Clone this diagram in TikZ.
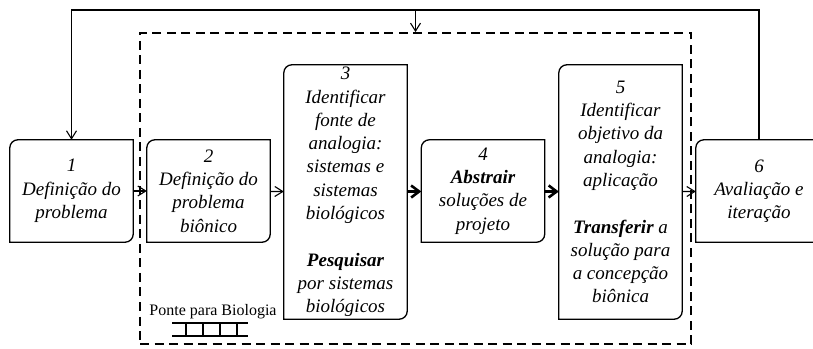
\documentclass[tikz,border=0pt]{standalone}
\usepackage{fontspec}
\setmainfont{Liberation Serif}
\usetikzlibrary{arrows.meta,positioning}

% outline with rounded top-left and bottom-right corners
\newcommand{\stepoutline}[1]{%
  \draw[boxline] (#1.north east) -- ([yshift=8pt]#1.south east)
    arc[start angle=0,end angle=-90,radius=8pt] -- (#1.south west)
    -- ([yshift=-8pt]#1.north west)
    arc[start angle=180,end angle=90,radius=8pt] -- cycle;}

\begin{document}
\begin{tikzpicture}[
    x=1pt,y=1pt,
    stepbox/.style={inner sep=0pt,minimum width=123pt,minimum height=102pt,
        align=center,font=\fontsize{19}{23.3}\selectfont\itshape},
    tallbox/.style={stepbox,minimum height=254pt},
    boxline/.style={line width=1.3pt},
    flow/.style={->,line width=1.1pt},
    boldflow/.style={-{Straight Barb[length=8pt,width=12pt]},line width=2.6pt},
    >={Straight Barb[length=8pt,width=10pt]},
    ]
    \clip (0,0) rectangle (813,348);

    %bridge frame
    \node[draw,line width=1.8pt,dash pattern=on 9pt off 5.5pt,
        minimum width=551pt,minimum height=311pt] (bridge) at (415.5,159.5) {};

    %steps
    \node[stepbox] (n1) at (71.5,157) {1\\Definição do\\problema};
    \node[stepbox] (n2) at (208.5,157) {2\\Definição do\\problema\\biônico};
    \node[tallbox] (n3) at (345.5,156) {3\\Identificar\\fonte de\\analogia:\\sistemas e\\sistemas\\biológicos\\[23.3pt]
        \textbf{Pesquisar}\\por sistemas\\biológicos};
    \node[stepbox] (n4) at (483,157) {4\\\textbf{Abstrair}\\soluções de\\projeto};
    \node[tallbox] (n5) at (620.5,156) {5\\Identificar\\objetivo da\\analogia:\\aplicação\\[23.3pt]
        \textbf{Transferir} a\\solução para\\a concepção\\biônica};
    \node[stepbox,minimum width=126pt] (n6) at (759,157) {6\\Avaliação e\\iteração};

    \stepoutline{n1}
    \stepoutline{n2}
    \stepoutline{n3}
    \stepoutline{n4}
    \stepoutline{n5}
    \stepoutline{n6}

    %flow
    \draw[flow] (n1) -- (n2);
    \draw[flow] (n2) -- (n3);
    \draw[boldflow] (n3) -- (n4);
    \draw[boldflow] (n4) -- (n5);
    \draw[flow] (n5) -- (n6);

    %iteration loop
    \coordinate (loop) at (0,338);
    \draw[flow] (n6.north) |- (loop -| n1.north) -- (n1.north);
    \draw[flow] (loop -| bridge.north) -- (bridge.north);

    %ladder
    \node[font=\fontsize{16}{19}\selectfont] (ponte) at (213,36) {Ponte para Biologia};
    \draw[line width=1.3pt] (172,25) -- (248,25);
    \draw[line width=1.3pt] (172,12) -- (248,12);
    \foreach \x in {186,203,220,237}
        \draw[line width=1.3pt] (\x,25) -- (\x,12);

\end{tikzpicture}
\end{document}
